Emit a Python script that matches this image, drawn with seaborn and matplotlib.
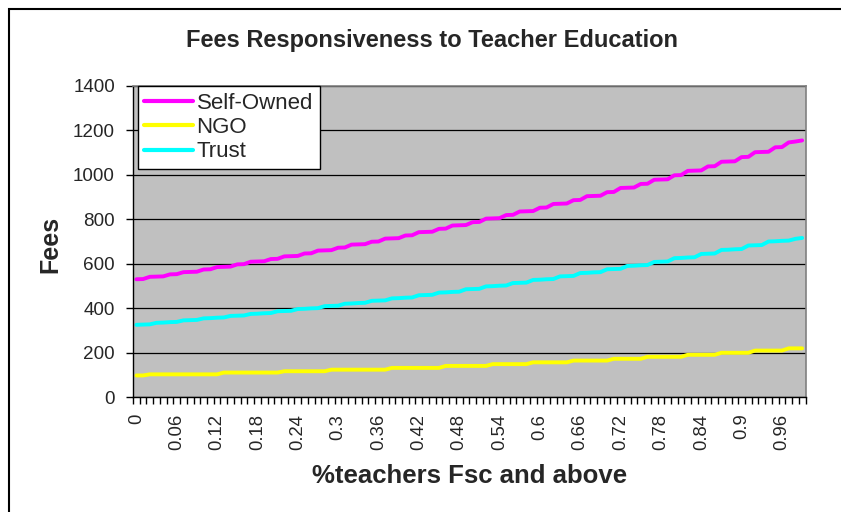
import numpy as np
import pandas as pd
import seaborn as sns
import matplotlib.pyplot as plt
from matplotlib.patches import Rectangle

# categories: share of teachers with Fsc and above (0.00 ... 0.99)
pct_teachers = np.round(np.arange(100) / 100, 2)
tick_labels = ["0", "0.06", "0.12", "0.18", "0.24", "0.3", "0.36", "0.42", "0.48",
               "0.54", "0.6", "0.66", "0.72", "0.78", "0.84", "0.9", "0.96"]

self_owned = [530, 531, 541, 542, 543, 552, 553, 562, 563, 564,
              574, 575, 585, 586, 587, 597, 598, 609, 610, 611,
              621, 622, 633, 634, 635, 646, 647, 659, 660, 661,
              672, 673, 686, 687, 688, 699, 700, 713, 714, 715,
              727, 728, 742, 743, 744, 757, 758, 772, 773, 774,
              787, 788, 803, 804, 805, 819, 820, 835, 836, 837,
              852, 853, 869, 870, 871, 886, 887, 904, 905, 906,
              922, 923, 941, 942, 943, 959, 960, 978, 979, 980,
              998, 999, 1018, 1019, 1020, 1038, 1039, 1059, 1060, 1061,
              1080, 1081, 1102, 1103, 1104, 1124, 1125, 1146, 1150, 1155]

ngo = [97, 97, 102, 102, 102, 102, 102, 102, 102, 102,
       102, 102, 102, 110, 110, 110, 110, 110, 110, 110,
       110, 110, 116, 116, 116, 116, 116, 116, 116, 123,
       123, 123, 123, 123, 123, 123, 123, 123, 131, 131,
       131, 131, 131, 131, 131, 131, 140, 140, 140, 140,
       140, 140, 140, 148, 148, 148, 148, 148, 148, 156,
       156, 156, 156, 156, 156, 164, 164, 164, 164, 164,
       164, 172, 172, 172, 172, 172, 181, 181, 181, 181,
       181, 181, 190, 190, 190, 190, 190, 199, 199, 199,
       199, 199, 209, 209, 209, 209, 209, 219, 219, 219]

trust = [325, 326, 327, 334, 335, 337, 338, 345, 346, 347,
         354, 355, 357, 358, 365, 366, 367, 374, 375, 377,
         378, 386, 387, 388, 396, 397, 399, 400, 409, 410,
         411, 420, 421, 423, 424, 433, 434, 435, 444, 445,
         447, 448, 458, 459, 460, 470, 471, 473, 474, 485,
         486, 487, 498, 499, 501, 502, 513, 514, 515, 527,
         528, 530, 531, 543, 544, 545, 558, 559, 561, 562,
         575, 576, 577, 590, 591, 593, 594, 608, 609, 610,
         625, 626, 628, 629, 644, 645, 646, 662, 663, 665,
         666, 682, 683, 684, 700, 701, 703, 704, 712, 716]

series_names = ["Self-Owned", "NGO", "Trust"]
colors = {"Self-Owned": "#FF00FF", "NGO": "#FFFF00", "Trust": "#00FFFF"}

rows = []
for name, vals in zip(series_names, [self_owned, ngo, trust]):
    for i, (p, v) in enumerate(zip(pct_teachers, vals)):
        rows.append({"pos": i, "pct": p, "fees": v, "type": name})
df = pd.DataFrame(rows)

sns.set_theme(style="white")
plt.rcParams["font.family"] = ["Liberation Sans", "DejaVu Sans"]

fig = plt.figure(figsize=(8.41, 5.12), dpi=100)
ax = fig.add_axes([133 / 841, 115 / 512, 672.5 / 841, 311 / 512])
ax.set_facecolor("#C0C0C0")

sns.lineplot(data=df, x="pos", y="fees", hue="type", hue_order=series_names,
             palette=colors, linewidth=2.8, ax=ax)

ax.set_xlim(-0.5, 99.5)
ax.set_ylim(0, 1400)
ax.set_yticks(range(0, 1401, 200))
ax.tick_params(axis="y", labelsize=13.6, length=5, width=1, direction="out",
               color="black", left=True, pad=8)
ax.yaxis.grid(True, color="black", linewidth=0.9)
ax.set_axisbelow(True)

ax.set_xticks(range(0, 100, 6))
ax.set_xticklabels(tick_labels, rotation=90, fontsize=13.3)
ax.set_xticks(np.arange(-0.5, 100, 1), minor=True)
ax.tick_params(axis="x", which="major", length=0, pad=12)
ax.tick_params(axis="x", which="minor", length=5, width=1, color="black",
               direction="out", bottom=True)

ax.set_xlabel("")
ax.set_ylabel("")
for side in ["left", "bottom"]:
    ax.spines[side].set_color("black")
    ax.spines[side].set_linewidth(1)
for side in ["top", "right"]:
    ax.spines[side].set_color("#808080")
    ax.spines[side].set_linewidth(1.2)

handles, labels = ax.get_legend_handles_labels()
leg = ax.legend(handles, labels, loc="upper left", bbox_to_anchor=(0.007, 1.0),
                borderaxespad=0, frameon=True, fancybox=False, framealpha=1,
                edgecolor="black", fontsize=16, handlelength=2.2,
                handletextpad=0.15, labelspacing=0.15, borderpad=0.3)
leg.get_frame().set_linewidth(1)
for line in leg.get_lines():
    line.set_linewidth(3)

fig.text(432 / 841, 1 - 40 / 512, "Fees Responsiveness to Teacher Education",
         ha="center", va="center", fontsize=17, fontweight="bold")
fig.text(50 / 841, 1 - 244 / 512, "Fees", rotation=90, ha="center",
         va="center", fontsize=18, fontweight="bold")
fig.text(470 / 841, 1 - 476 / 512, "%teachers Fsc and above", ha="center",
         va="center", fontsize=18.5, fontweight="bold")

# outer chart frame
fig.patches.append(Rectangle((9 / 841, -0.05), 1.2, 1.05 - 9 / 512,
                             transform=fig.transFigure, fill=False,
                             edgecolor="black", linewidth=1.5))

fig.savefig("out.png", dpi=100)
